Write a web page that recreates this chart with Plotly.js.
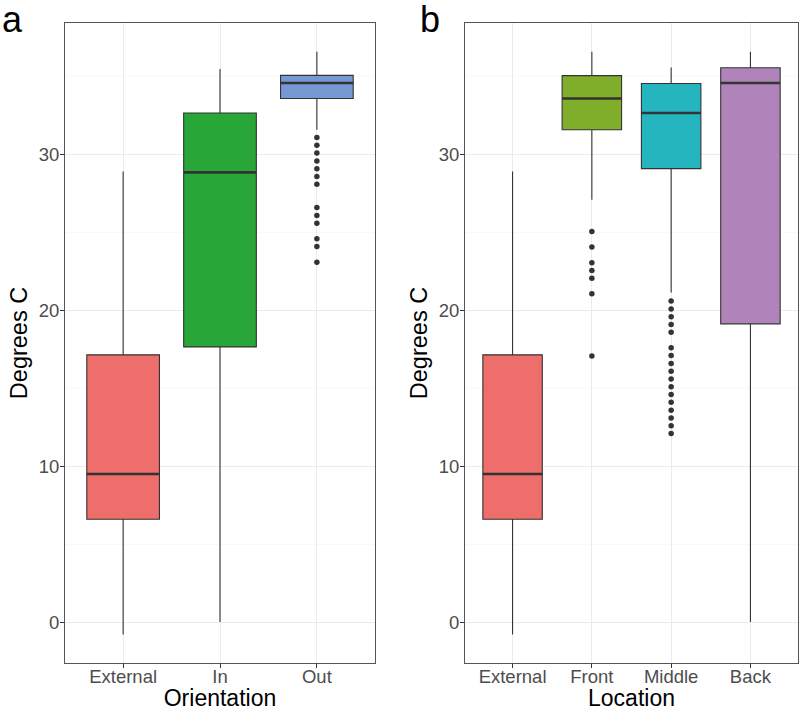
<!DOCTYPE html>
<html>
<head>
<meta charset="utf-8">
<script src="https://cdn.plot.ly/plotly-3.0.1.min.js"></script>
<style>html,body{margin:0;padding:0;background:#fff;}#chart{width:800px;height:711px;}</style>
</head>
<body>
<div id="chart"></div>
<script>
// ---- Panel a: Orientation ----
var orientCats = ['External', 'In', 'Out'];
var orientQ1 = [6.6, 17.66, 33.6];
var orientMedian = [9.5, 28.86, 34.6];
var orientQ3 = [17.15, 32.67, 35.09];
var orientLower = [-0.8, 0.0, 31.6];
var orientUpper = [28.92, 35.5, 36.6];
var orientColors = ['#EE6E6B', '#29A638', '#7699D4'];
var outOutliers = [31.1, 30.6, 30.1, 29.6, 29.1, 28.6, 28.1, 26.6, 26.1, 25.6, 24.6, 24.1, 23.1];

// ---- Panel b: Location ----
var locCats = ['External', 'Front', 'Middle', 'Back'];
var locQ1 = [6.6, 31.6, 29.1, 19.14];
var locMedian = [9.5, 33.6, 32.67, 34.6];
var locQ3 = [17.15, 35.07, 34.57, 35.58];
var locLower = [-0.8, 27.1, 21.15, 0.0];
var locUpper = [28.92, 36.6, 35.6, 36.6];
var locColors = ['#EE6E6B', '#80AD2A', '#24B5BE', '#B084BA'];
var frontOutliers = [25.07, 24.07, 23.06, 22.56, 22.07, 21.07, 17.07];
var middleOutliers = [20.6, 20.1, 19.6, 19.1, 18.6, 17.6, 17.1, 16.6, 16.1, 15.6, 15.1, 14.6, 14.1, 13.6, 13.1, 12.6, 12.1];

var BOXW = 0.75;
var traces = [];

function addPanel(cats, q1, med, q3, lo, hi, colors, xa, ya) {
  cats.forEach(function (c, i) {
    traces.push({
      type: 'box', x: [i], q1: [q1[i]], median: [med[i]], q3: [q3[i]],
      lowerfence: [lo[i]], upperfence: [hi[i]],
      width: BOXW, whiskerwidth: 0, boxpoints: false,
      fillcolor: colors[i], line: {color: '#333333', width: 1.1},
      xaxis: xa, yaxis: ya, showlegend: false, hoverinfo: 'skip', name: c
    });
    traces.push({
      type: 'scatter', mode: 'lines',
      x: [i - BOXW / 2, i + BOXW / 2], y: [med[i], med[i]],
      line: {color: '#333333', width: 2.6},
      xaxis: xa, yaxis: ya, showlegend: false, hoverinfo: 'skip'
    });
  });
}
function addOutliers(idx, vals, xa, ya) {
  traces.push({
    type: 'scatter', mode: 'markers',
    x: vals.map(function () { return idx; }), y: vals,
    marker: {color: '#333333', size: 5.5},
    xaxis: xa, yaxis: ya, showlegend: false, hoverinfo: 'skip'
  });
}

addPanel(orientCats, orientQ1, orientMedian, orientQ3, orientLower, orientUpper, orientColors, 'x', 'y');
addOutliers(orientCats.indexOf('Out'), outOutliers, 'x', 'y');
addPanel(locCats, locQ1, locMedian, locQ3, locLower, locUpper, locColors, 'x2', 'y2');
addOutliers(locCats.indexOf('Front'), frontOutliers, 'x2', 'y2');
addOutliers(locCats.indexOf('Middle'), middleOutliers, 'x2', 'y2');

var FONT = 'Liberation Sans, Arial, sans-serif';
var yRange = [-2.63, 38.45];

function yAxis(anchor) {
  return {
    domain: [0, 1], range: yRange, anchor: anchor,
    tickvals: [0, 10, 20, 30], ticks: 'outside', ticklen: 4, tickcolor: '#333333',
    ticklabelstandoff: -3,
    tickfont: {family: FONT, size: 18.5, color: '#4D4D4D'},
    showgrid: true, gridcolor: '#EBEBEB', gridwidth: 1,
    minor: {dtick: 5, tick0: 0, showgrid: true, gridcolor: '#F5F5F5', gridwidth: 0.6},
    zeroline: false, showline: true, mirror: true, linecolor: '#555555', linewidth: 1,
    title: {text: 'Degrees C', font: {family: FONT, size: 23.5, color: '#000'}, standoff: 4},
    fixedrange: true
  };
}
function xAxis(cats, domain, anchor, title) {
  return {
    domain: domain, range: [-0.6, cats.length - 0.4], anchor: anchor,
    tickvals: cats.map(function (c, i) { return i; }), ticktext: cats,
    ticks: 'outside', ticklen: 4, tickcolor: '#333333',
    ticklabelstandoff: -7,
    tickfont: {family: FONT, size: 18.5, color: '#4D4D4D'},
    showgrid: true, gridcolor: '#EBEBEB', gridwidth: 1,
    zeroline: false, showline: true, mirror: true, linecolor: '#555555', linewidth: 1,
    title: {text: title, font: {family: FONT, size: 23, color: '#000'}, standoff: 2},
    fixedrange: true
  };
}

var layout = {
  width: 800, height: 711,
  margin: {l: 0, r: 0, t: 23, b: 48, autoexpand: false},
  paper_bgcolor: '#fff', plot_bgcolor: '#fff',
  font: {family: FONT},
  xaxis: xAxis(orientCats, [65 / 800, 375 / 800], 'y', 'Orientation'),
  yaxis: yAxis('x'),
  xaxis2: xAxis(locCats, [465 / 800, 798 / 800], 'y2', 'Location'),
  yaxis2: yAxis('x2'),
  boxmode: 'overlay',
  annotations: [
    {text: 'a', xref: 'paper', yref: 'paper', x: 0, y: 1.04, xanchor: 'left', yanchor: 'top',
     showarrow: false, font: {family: FONT, size: 36, color: '#000'}},
    {text: 'b', xref: 'paper', yref: 'paper', x: 418 / 800, y: 1.04, xanchor: 'left', yanchor: 'top',
     showarrow: false, font: {family: FONT, size: 36, color: '#000'}}
  ]
};

Plotly.newPlot('chart', traces, layout, {displayModeBar: false, staticPlot: true});
</script>
</body>
</html>
